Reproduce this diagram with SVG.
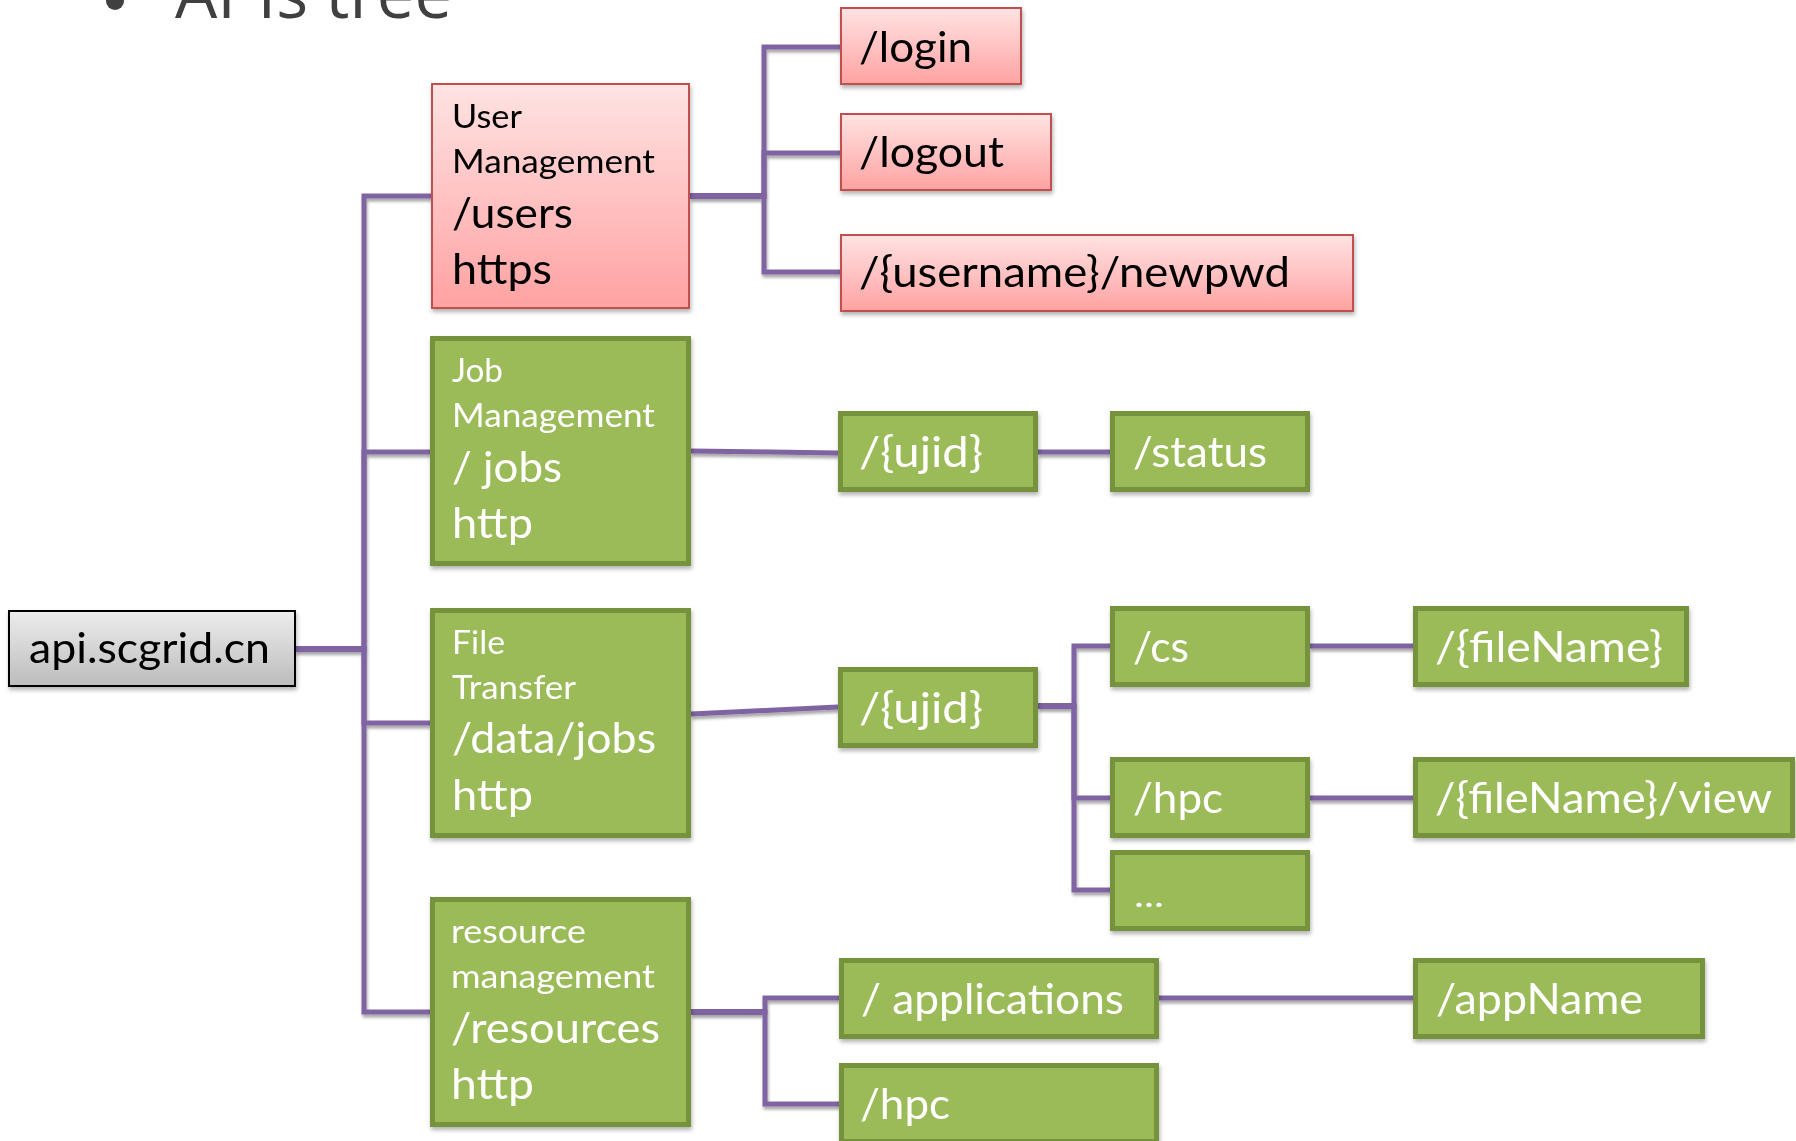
<svg xmlns="http://www.w3.org/2000/svg" width="1796" height="1141" viewBox="0 0 1796 1141">
  <defs>
    <linearGradient id="redFill" x1="0" y1="0" x2="0" y2="1">
      <stop offset="0" stop-color="#FFE3E3"/>
      <stop offset="1" stop-color="#FFA2A2"/>
    </linearGradient>
    <linearGradient id="grayFill" x1="0" y1="0" x2="0" y2="1">
      <stop offset="0" stop-color="#EDEDED"/>
      <stop offset="1" stop-color="#BCBCBC"/>
    </linearGradient>
    <filter id="lineShadow" filterUnits="userSpaceOnUse" x="0" y="0" width="1796" height="1141">
      <feDropShadow dx="1" dy="3" stdDeviation="1.5" flood-color="#000" flood-opacity="0.35"/>
    </filter>
    <filter id="boxShadow" filterUnits="userSpaceOnUse" x="0" y="0" width="1796" height="1141">
      <feDropShadow dx="1" dy="3" stdDeviation="2" flood-color="#000" flood-opacity="0.3"/>
    </filter>
  </defs>
  <style>
    text { font-family: Lato, "Open Sans", "Liberation Sans", sans-serif; }
    .red { fill: url(#redFill); stroke: #C0504D; stroke-width: 2; }
    .gray { fill: url(#grayFill); stroke: #000; stroke-width: 2; }
    .green { fill: #9BBB59; stroke: #76923C; stroke-width: 5; }
    .big { font-size: 42px; }
    .small { font-size: 33px; }
    .dark { fill: #000; }
    .light { fill: #FFF; }
    .title { font-family: "Open Sans", "Noto Sans", sans-serif; font-size: 68px; fill: #404040; }
    .conn path { fill: none; stroke: #8064A2; stroke-width: 5; }
    .conn path.thick { stroke-width: 6; }
  </style>

  <rect x="0" y="0" width="1796" height="1141" fill="#FFFFFF"/>

  <!-- heading, clipped by the top edge -->
  <g id="heading">
    <circle cx="115" cy="1" r="9" fill="#404040"/>
    <text class="title" x="175" y="18" textLength="277" lengthAdjust="spacingAndGlyphs">APIs tree</text>
  </g>

  <!-- connectors -->
  <g id="connectors" class="conn" filter="url(#lineShadow)">
    <path d="M295,649 H364 V196 H431"/>
    <path d="M295,649 H364 V452 H430"/>
    <path d="M295,649 H364 V723 H430"/>
    <path d="M295,649 H364 V1012 H430"/>
    <path class="thick" d="M295,649 H364"/>

    <path d="M690,196 H764 V47 H840"/>
    <path d="M690,196 H764 V153 H840"/>
    <path d="M690,196 H764 V272 H840"/>
    <path class="thick" d="M690,196 H764"/>

    <path d="M691,451 L838,453"/>
    <path d="M1038,452 H1110"/>

    <path d="M691,714 L838,707"/>
    <path d="M1038,706 H1074 V646 H1110"/>
    <path d="M1038,706 H1074 V798 H1110"/>
    <path d="M1038,706 H1074 V890 H1110"/>
    <path class="thick" d="M1038,706 H1074"/>
    <path d="M1310,646 H1413"/>
    <path d="M1310,798 H1413"/>

    <path d="M691,1012 H765 V998 H839"/>
    <path d="M691,1012 H765 V1104 H839"/>
    <path class="thick" d="M691,1012 H765"/>
    <path d="M1159,998 H1413"/>
  </g>

  <!-- root -->
  <g id="root" filter="url(#boxShadow)">
    <rect class="gray" x="9" y="611" width="286" height="75"/>
    <text class="big dark" x="29" y="663" textLength="241" lengthAdjust="spacingAndGlyphs">api.scgrid.cn</text>
  </g>

  <!-- first level -->
  <g id="users" filter="url(#boxShadow)">
    <rect class="red" x="432" y="84" width="257" height="224"/>
    <text class="small dark" x="452" y="128" textLength="70" lengthAdjust="spacingAndGlyphs">User</text>
    <text class="small dark" x="452" y="173" textLength="203" lengthAdjust="spacingAndGlyphs">Management</text>
    <text class="big dark" x="452" y="228" textLength="121" lengthAdjust="spacingAndGlyphs">/users</text>
    <text class="big dark" x="452" y="284" textLength="100" lengthAdjust="spacingAndGlyphs">https</text>
  </g>

  <g id="jobs" filter="url(#boxShadow)">
    <rect class="green" x="432.5" y="338.5" width="256" height="225"/>
    <text class="small light" x="452" y="382" textLength="51" lengthAdjust="spacingAndGlyphs">Job</text>
    <text class="small light" x="452" y="427" textLength="203" lengthAdjust="spacingAndGlyphs">Management</text>
    <text class="big light" x="452" y="482" textLength="110" lengthAdjust="spacingAndGlyphs">/ jobs</text>
    <text class="big light" x="452" y="538" textLength="81" lengthAdjust="spacingAndGlyphs">http</text>
  </g>

  <g id="data" filter="url(#boxShadow)">
    <rect class="green" x="432.5" y="610.5" width="256" height="225"/>
    <text class="small light" x="452" y="654" textLength="53" lengthAdjust="spacingAndGlyphs">File</text>
    <text class="small light" x="452" y="699" textLength="124" lengthAdjust="spacingAndGlyphs">Transfer</text>
    <text class="big light" x="452" y="753" textLength="204" lengthAdjust="spacingAndGlyphs">/data/jobs</text>
    <text class="big light" x="452" y="810" textLength="81" lengthAdjust="spacingAndGlyphs">http</text>
  </g>

  <g id="resources" filter="url(#boxShadow)">
    <rect class="green" x="432.5" y="899.5" width="256" height="225"/>
    <text class="small light" x="451" y="943" textLength="135" lengthAdjust="spacingAndGlyphs">resource</text>
    <text class="small light" x="451" y="988" textLength="204" lengthAdjust="spacingAndGlyphs">management</text>
    <text class="big light" x="451" y="1043" textLength="209" lengthAdjust="spacingAndGlyphs">/resources</text>
    <text class="big light" x="451" y="1099" textLength="83" lengthAdjust="spacingAndGlyphs">http</text>
  </g>

  <!-- user endpoints -->
  <g id="login" filter="url(#boxShadow)">
    <rect class="red" x="841" y="8" width="180" height="76"/>
    <text class="big dark" x="859" y="62" textLength="113" lengthAdjust="spacingAndGlyphs">/login</text>
  </g>
  <g id="logout" filter="url(#boxShadow)">
    <rect class="red" x="841" y="114" width="210" height="76"/>
    <text class="big dark" x="859" y="167" textLength="145" lengthAdjust="spacingAndGlyphs">/logout</text>
  </g>
  <g id="newpwd" filter="url(#boxShadow)">
    <rect class="red" x="841" y="235" width="512" height="76"/>
    <text class="big dark" x="859" y="287" textLength="431" lengthAdjust="spacingAndGlyphs">/{username}/newpwd</text>
  </g>

  <!-- job endpoints -->
  <g id="job-ujid" filter="url(#boxShadow)">
    <rect class="green" x="840.5" y="413.5" width="195" height="76"/>
    <text class="big light" x="859" y="467" textLength="124" lengthAdjust="spacingAndGlyphs">/{ujid}</text>
  </g>
  <g id="job-status" filter="url(#boxShadow)">
    <rect class="green" x="1112.5" y="413.5" width="195" height="76"/>
    <text class="big light" x="1133" y="467" textLength="134" lengthAdjust="spacingAndGlyphs">/status</text>
  </g>

  <!-- data endpoints -->
  <g id="data-ujid" filter="url(#boxShadow)">
    <rect class="green" x="840.5" y="669.5" width="195" height="76"/>
    <text class="big light" x="859" y="723" textLength="124" lengthAdjust="spacingAndGlyphs">/{ujid}</text>
  </g>
  <g id="data-cs" filter="url(#boxShadow)">
    <rect class="green" x="1112.5" y="608.5" width="195" height="76"/>
    <text class="big light" x="1133" y="662" textLength="56" lengthAdjust="spacingAndGlyphs">/cs</text>
  </g>
  <g id="data-hpc" filter="url(#boxShadow)">
    <rect class="green" x="1112.5" y="759.5" width="195" height="76"/>
    <text class="big light" x="1133" y="813" textLength="90" lengthAdjust="spacingAndGlyphs">/hpc</text>
  </g>
  <g id="data-more" filter="url(#boxShadow)">
    <rect class="green" x="1112.5" y="852.5" width="195" height="76"/>
    <text class="small light" x="1134" y="907" textLength="30" lengthAdjust="spacingAndGlyphs">...</text>
  </g>
  <g id="cs-file" filter="url(#boxShadow)">
    <rect class="green" x="1415.5" y="608.5" width="271" height="76"/>
    <text class="big light" x="1435" y="662" textLength="228" lengthAdjust="spacingAndGlyphs">/{fileName}</text>
  </g>
  <g id="hpc-file-view" filter="url(#boxShadow)">
    <rect class="green" x="1415.5" y="759.5" width="377" height="76"/>
    <text class="big light" x="1435" y="813" textLength="337" lengthAdjust="spacingAndGlyphs">/{fileName}/view</text>
  </g>

  <!-- resource endpoints -->
  <g id="applications" filter="url(#boxShadow)">
    <rect class="green" x="841.5" y="960.5" width="315" height="76"/>
    <text class="big light" x="861" y="1014" textLength="263" lengthAdjust="spacingAndGlyphs">/ applications</text>
  </g>
  <g id="res-hpc" filter="url(#boxShadow)">
    <rect class="green" x="841.5" y="1065.5" width="315" height="76"/>
    <text class="big light" x="860" y="1119" textLength="90" lengthAdjust="spacingAndGlyphs">/hpc</text>
  </g>
  <g id="app-name" filter="url(#boxShadow)">
    <rect class="green" x="1415.5" y="960.5" width="287" height="76"/>
    <text class="big light" x="1436" y="1014" textLength="207" lengthAdjust="spacingAndGlyphs">/appName</text>
  </g>
</svg>
